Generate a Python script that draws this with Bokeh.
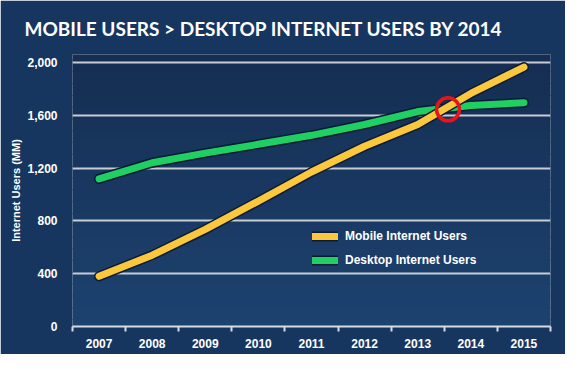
from bokeh.plotting import figure
from bokeh.models import FixedTicker, NumeralTickFormatter, Legend, LegendItem, Range1d, BoxAnnotation
from bokeh.embed import file_html
from bokeh.resources import INLINE

years = [2007, 2008, 2009, 2010, 2011, 2012, 2013, 2014, 2015]
mobile_users = [380, 540, 735, 950, 1170, 1365, 1530, 1765, 1965]
desktop_users = [1118, 1240, 1313, 1380, 1448, 1530, 1628, 1673, 1695]
y_ticks = [0, 400, 800, 1200, 1600, 2000]
crossover_x = [2013.57]
crossover_y = [1645]

BG = "#17365f"
YELLOW = "#fbc73c"
GREEN = "#1fcf62"
OUTLINE = "#0b1a36"
LABEL_FONT = "Liberation Sans"
W, H = 565, 354

p = figure(width=W, height=H, output_backend="svg", toolbar_location=None,
           x_range=Range1d(2006.5, 2015.5), y_range=Range1d(0, 2060),
           min_border_left=72, min_border_right=15, min_border_top=54, min_border_bottom=28,
           background_fill_alpha=0, border_fill_color=BG, outline_line_color=None)

# vertical background gradient (decoration)
top_rgb = (0x14, 0x2a, 0x4c)
bot_rgb = (0x1d, 0x44, 0x72)
n_bands = 30
for i in range(n_bands):
    t = i / (n_bands - 1)
    c = tuple(int(round(a + (b - a) * t)) for a, b in zip(top_rgb, bot_rgb))
    p.add_layout(BoxAnnotation(left=0, right=W, top=i * H / n_bands, bottom=(i + 1) * H / n_bands + 1,
                               left_units="canvas", right_units="canvas",
                               top_units="canvas", bottom_units="canvas",
                               fill_color="#%02x%02x%02x" % c, fill_alpha=1, line_color=None,
                               level="image", editable=False))

p.title.text = "MOBILE USERS > DESKTOP INTERNET USERS BY 2014"
p.title.text_font = "Lato"
p.title.text_font_style = "bold"
p.title.text_font_size = "19px"
p.title.text_color = "white"
p.title.offset = -48
p.title.standoff = 29

# x axis
p.xaxis.ticker = FixedTicker(ticks=years, minor_ticks=[y - 0.5 for y in years] + [years[-1] + 0.5])
p.xaxis.major_tick_line_color = None
p.xaxis.major_tick_out = 0
p.xaxis.major_tick_in = 0
p.xaxis.minor_tick_line_color = "#d8dbe0"
p.xaxis.minor_tick_line_width = 2
p.xaxis.minor_tick_out = 5
p.xaxis.minor_tick_in = 0
p.xaxis.axis_line_color = "#d8dbe0"
p.xaxis.axis_line_width = 2
p.xaxis.major_label_text_color = "white"
p.xaxis.major_label_text_font = LABEL_FONT
p.xaxis.major_label_text_font_style = "bold"
p.xaxis.major_label_text_font_size = "12px"
p.xaxis.major_label_standoff = 7

# y axis
p.yaxis.ticker = FixedTicker(ticks=y_ticks)
p.yaxis.formatter = NumeralTickFormatter(format="0,0")
p.yaxis.axis_line_color = None
p.yaxis.major_tick_line_color = None
p.yaxis.minor_tick_line_color = None
p.yaxis.major_label_text_color = "white"
p.yaxis.major_label_text_font = LABEL_FONT
p.yaxis.major_label_text_font_style = "bold"
p.yaxis.major_label_text_font_size = "12px"
p.yaxis.major_label_standoff = 9
p.yaxis.axis_label = "Internet Users (MM)"
p.yaxis.axis_label_text_color = "white"
p.yaxis.axis_label_text_font = LABEL_FONT
p.yaxis.axis_label_text_font_style = "bold"
p.yaxis.axis_label_text_font_size = "11px"
p.yaxis.axis_label_standoff = 2

p.xgrid.grid_line_color = None
p.ygrid.grid_line_color = "#c8ccd3"
p.ygrid.grid_line_width = 2

# lines
d_out = p.line(years, desktop_users, line_color=OUTLINE, line_width=10, line_cap="round", line_join="round")
d_line = p.line(years, desktop_users, line_color=GREEN, line_width=7, line_cap="round", line_join="round")
m_out = p.line(years, mobile_users, line_color=OUTLINE, line_width=10, line_cap="round", line_join="round")
m_line = p.line(years, mobile_users, line_color=YELLOW, line_width=7, line_cap="round", line_join="round")

p.scatter(crossover_x, crossover_y, size=23, fill_color=None, line_color="#e8141b", line_width=3.5)

legend = Legend(items=[LegendItem(label="Mobile Internet Users", renderers=[m_out, m_line]),
                       LegendItem(label="Desktop Internet Users", renderers=[d_out, d_line])],
                location=(240, 56), background_fill_alpha=0, border_line_color=None,
                padding=0, margin=0, spacing=4, glyph_width=26, glyph_height=20, label_height=20,
                label_standoff=7, label_text_color="white", label_text_font=LABEL_FONT,
                label_text_font_style="bold", label_text_font_size="12px")
p.add_layout(legend, "center")

open("out.html", "w").write(file_html(p, INLINE))
